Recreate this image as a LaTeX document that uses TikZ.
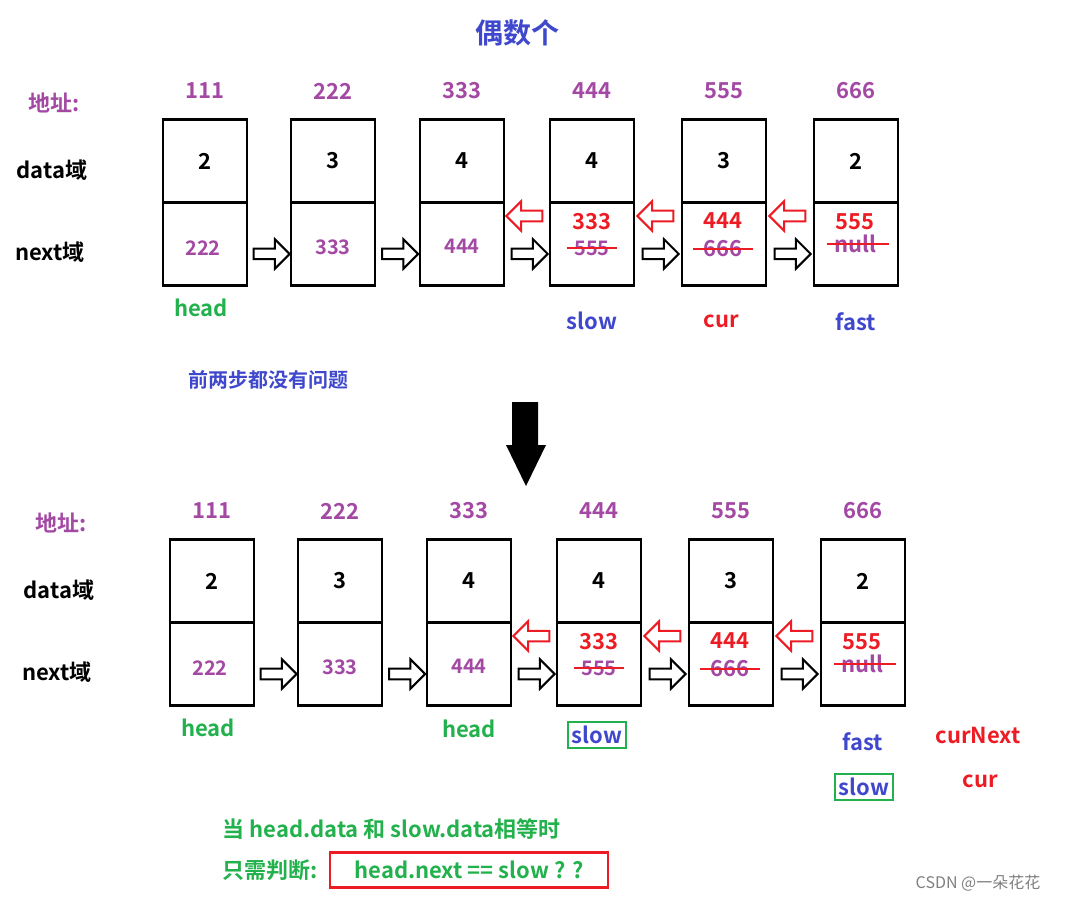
\documentclass[tikz,border=0pt]{standalone}
\usepackage{fontspec}
\setmainfont{Noto Sans CJK SC}[BoldFont={Noto Sans CJK SC Bold}]
\usetikzlibrary{positioning,shapes.arrows}
\definecolor{addr}{RGB}{163,73,164}
\definecolor{blu}{RGB}{63,72,204}
\definecolor{grn}{RGB}{34,177,76}
\definecolor{rd}{RGB}{237,28,36}
\tikzset{
  cell/.style={draw=black, line width=2.2pt, minimum width=84*0.75pt, minimum height=83*0.75pt, inner sep=0pt},
  lbl/.style={font=\fontsize{16.5}{18}\selectfont\bfseries},
  num/.style={font=\fontsize{15}{17}\selectfont\bfseries},
  harrow/.style={single arrow, draw=black, line width=1.5pt, minimum height=27pt, minimum width=15pt,
                 inner xsep=0pt, inner ysep=3.2pt, fill=white},
  rarrow/.style={harrow, draw=rd, shape border rotate=180},
  strike/.style={rd, line width=1.6pt},
  okbox/.style={draw=grn, line width=1.6pt, inner sep=3pt}
}
\begin{document}
\begin{tikzpicture}[x=0.75pt,y=-0.75pt]
\useasboundingbox (0,0) rectangle (1069,901);

\node[blu, font=\fontsize{21}{23}\selectfont\bfseries] (title) at (517,33) {偶数个};

% two rows of the list
\foreach \r/\dx/\dy in {a/0/0, b/7/420} {
  \begin{scope}[shift={(\dx,\dy)}]
    \node[lbl, addr, anchor=west] (\r addr) at (24,103) {地址:};
    \node[lbl] (\r data) at (52,170) {data域};
    \node[lbl] (\r next) at (50,252) {next域};
    \foreach \i/\x/\ad/\dv in {1/205/111/2, 2/333/222/3, 3/462/333/4, 4/592/444/4, 5/724/555/3, 6/856/666/2} {
      \node[cell, anchor=north] (\r d\i) at (\x,118) {};
      \node[cell, anchor=north] (\r n\i) at (\x,201) {};
      \node[lbl] at (\r d\i) {\dv};
      \node[lbl, addr] (\r ad\i) at (\x,91) {\ad};
    }
    \node[num, addr] (\r v1) at (203,248) {222};
    \node[num, addr] (\r v2) at (333,247) {333};
    \node[num, addr] (\r v3) at (462,246) {444};
    \node[lbl, rd] (\r v4) at (592,222) {333};
    \node[num, addr] (\r o4) at (592,248) {555};
    \node[lbl, rd] (\r v5) at (723,221) {444};
    \node[lbl, addr] (\r o5) at (723,249) {666};
    \node[lbl, rd, inner ysep=1pt] (\r v6) at (855,222) {555};
    \node[lbl, addr, inner ysep=1pt] (\r o6) at (855,244) {null};
    \draw[strike] ([xshift=-2pt]\r o4.west) -- ([xshift=2pt]\r o4.east);
    \draw[strike] ([xshift=-4pt]\r o5.west) -- ([xshift=4pt]\r o5.east);
    \draw[strike] ([xshift=-2pt]\r o6.west) -- ([xshift=6pt]\r o6.east);
    \foreach \i/\j in {1/2, 2/3, 3/4, 4/5, 5/6}
      \path ([yshift=-10*0.75pt]\r n\i.east) -- ([yshift=-10*0.75pt]\r n\j.west) node[harrow, midway] {};
    \foreach \i/\j in {3/4, 4/5, 5/6}
      \path ([yshift=-15*0.75pt]\r n\i.north east) -- ([yshift=-15*0.75pt]\r n\j.north west) node[rarrow, midway] {};
  \end{scope}
}

% labels of the first row
\node[lbl, grn] (ahead) at (201,308) {head};
\node[lbl, blu] (aslow) at (592,321) {slow};
\node[lbl, rd] (acur) at (721,321) {cur};
\node[lbl, blu] (afast) at (856,322) {fast};
\node[lbl, blu, font=\fontsize{15}{17}\selectfont\bfseries] (note) at (268,380) {前两步都没有问题};

% big arrow down
\fill (512,402) -- (538,402) -- (538,445) -- (546,445) -- (526,486) -- (506,445) -- (512,445) -- cycle;

% labels of the second row
\node[lbl, grn] (bhead) at (208,728) {head};
\node[lbl, grn] (bhead2) at (469,729) {head};
\node[lbl, blu, okbox] (bslow) at (597,735) {slow};
\node[lbl, blu] (bfast) at (863,742) {fast};
\node[lbl, blu, okbox] (bslow2) at (864,787) {slow};
\node[lbl, rd] (bcurnext) at (978,735) {curNext};
\node[lbl, rd] (bcur) at (980,781) {cur};

\node[lbl, grn, anchor=west] (cond) at (218,829) {当 head.data 和 slow.data相等时};
\node[lbl, grn, anchor=west] (only) at (218,870) {只需判断:};
\node[lbl, grn, draw=rd, line width=1.6pt, minimum width=278*0.75pt, minimum height=35*0.75pt] (check) at (469,870) {head.next == slow ? ?};
\node[gray, font=\fontsize{12}{14}\selectfont] (mark) at (978,883) {CSDN @一朵花花};
\end{tikzpicture}
\end{document}
